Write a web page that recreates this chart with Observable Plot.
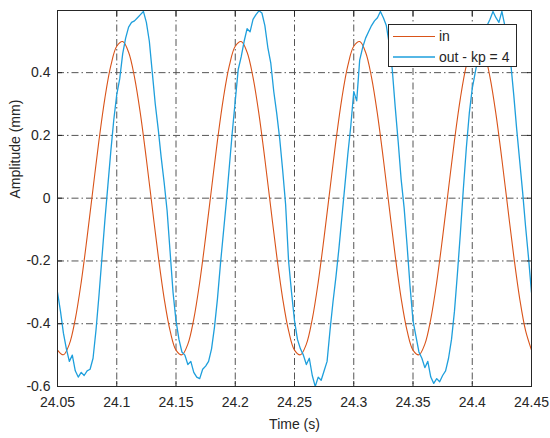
<!DOCTYPE html>
<html><head><meta charset="utf-8">
<script src="https://cdn.jsdelivr.net/npm/d3@7"></script>
<script src="https://cdn.jsdelivr.net/npm/@observablehq/plot@0.6"></script>
<style>
body{margin:0;background:#fff;}
#chart{position:relative;width:550px;height:438px;font-family:"Liberation Sans",Arial,Helvetica,sans-serif;}
#legend{position:absolute;left:388px;top:24px;width:127px;height:41px;border:1px solid #262626;background:#fff;}
</style></head><body>
<div id="chart"><div id="legend"></div></div>
<script>
// sampling of the recorded signals
const t0 = 24.05, dtIn = 0.005, dtOut = 0.0025;

// input signal (mm), every 5 ms
const inValues = [
 -0.484,-0.499,-0.465,-0.385,-0.268,-0.124,0.031,0.184,0.319,0.422,0.484,0.499,0.465,0.385,0.268,0.124,-0.031,-0.184,-0.319,-0.422,
 -0.484,-0.499,-0.465,-0.385,-0.268,-0.124,0.031,0.184,0.319,0.422,0.484,0.499,0.465,0.385,0.268,0.124,-0.031,-0.184,-0.319,-0.422,
 -0.484,-0.499,-0.465,-0.385,-0.268,-0.124,0.031,0.184,0.319,0.422,0.484,0.499,0.465,0.385,0.268,0.124,-0.031,-0.184,-0.319,-0.422,
 -0.484,-0.499,-0.465,-0.385,-0.268,-0.124,0.031,0.184,0.319,0.422,0.484,0.499,0.465,0.385,0.268,0.124,-0.031,-0.184,-0.319,-0.422,
 -0.484
];

// output signal (mm), every 2.5 ms
const outValues = [
 -0.30,-0.36,-0.43,-0.48,-0.52,-0.50,-0.55,-0.57,-0.555,-0.565,-0.55,-0.545,-0.51,-0.42,-0.31,-0.19,-0.07,0.04,0.15,0.25,
 0.33,0.38,0.46,0.51,0.545,0.56,0.565,0.575,0.585,0.595,0.56,0.50,0.40,0.30,0.22,0.13,0.05,-0.04,-0.17,-0.30,
 -0.39,-0.45,-0.49,-0.50,-0.53,-0.52,-0.555,-0.57,-0.575,-0.545,-0.535,-0.52,-0.48,-0.41,-0.32,-0.21,-0.11,-0.01,0.10,0.21,
 0.31,0.41,0.45,0.50,0.54,0.53,0.57,0.585,0.597,0.59,0.55,0.48,0.43,0.34,0.27,0.19,0.09,-0.02,-0.20,-0.30,
 -0.39,-0.45,-0.48,-0.50,-0.53,-0.51,-0.565,-0.60,-0.57,-0.58,-0.55,-0.52,-0.42,-0.33,-0.25,-0.16,-0.06,0.04,0.14,0.23,
 0.34,0.31,0.44,0.48,0.51,0.53,0.55,0.565,0.575,0.595,0.575,0.55,0.49,0.41,0.29,0.18,0.06,-0.03,-0.15,-0.28,
 -0.39,-0.44,-0.49,-0.51,-0.54,-0.52,-0.57,-0.59,-0.575,-0.585,-0.565,-0.55,-0.51,-0.45,-0.36,-0.24,-0.11,0.03,0.16,0.27,
 0.35,0.40,0.45,0.50,0.53,0.55,0.57,0.595,0.575,0.56,0.595,0.55,0.49,0.43,0.33,0.22,0.12,0.02,-0.09,-0.19,
 -0.30
];

const xTicks = [24.05,24.1,24.15,24.2,24.25,24.3,24.35,24.4,24.45];
const xTickLabels = ["24.05","24.1","24.15","24.2","24.25","24.3","24.35","24.4","24.45"];
const yTicks = [-0.6,-0.4,-0.2,0,0.2,0.4];
const yTickLabels = ["-0.6","-0.4","-0.2","0","0.2","0.4"];
const seriesNames = ["in","out - kp = 4"];
const seriesColors = ["#D95319","#1E9FDC"];
const xTitle = "Time (s)";
const yTitle = "Amplitude (mm)";
const xDomain = [24.05, 24.45];
const yDomain = [-0.6, 0.598];

const inData = inValues.map((v, i) => ({t: t0 + i * dtIn, v}));
const outData = outValues.map((v, i) => ({t: t0 + i * dtOut, v}));
const fmtX = d => xTickLabels[xTicks.findIndex(x => Math.abs(x - d) < 1e-9)];
const fmtY = d => yTickLabels[yTicks.findIndex(y => Math.abs(y - d) < 1e-9)];
const gridStyle = {stroke: "#555", strokeWidth: 1, strokeDasharray: "7,3,1.5,3"};

const plot = Plot.plot({
  width: 550, height: 438,
  marginLeft: 57, marginRight: 19, marginTop: 10, marginBottom: 52,
  style: {fontFamily: '"Liberation Sans", Arial, Helvetica, sans-serif', fontSize: "14px", color: "#262626", background: "#fff"},
  x: {domain: xDomain},
  y: {domain: yDomain},
  marks: [
    Plot.ruleX(xTicks.slice(1, -1), gridStyle),
    Plot.ruleY(yTicks.slice(1), gridStyle),
    Plot.line(inData, {x: "t", y: "v", stroke: seriesColors[0], strokeWidth: 1.1, curve: "catmull-rom", clip: true}),
    Plot.line(outData, {x: "t", y: "v", stroke: seriesColors[1], strokeWidth: 1.3, clip: true}),
    Plot.frame({stroke: "#262626", strokeWidth: 1}),
    Plot.axisX(xTicks, {anchor: "bottom", tickSize: 5, dy: -5, tickFormat: () => "", label: null, stroke: "#262626"}),
    Plot.axisX(xTicks, {anchor: "top", tickSize: 5, dy: 5, tickFormat: () => "", label: null, stroke: "#262626"}),
    Plot.axisY(yTicks, {anchor: "left", tickSize: 5, dx: 5, tickFormat: () => "", label: null, stroke: "#262626"}),
    Plot.axisY(yTicks, {anchor: "right", tickSize: 5, dx: -5, tickFormat: () => "", label: null, stroke: "#262626"}),
    Plot.axisX(xTicks, {anchor: "bottom", tickSize: 0, tickPadding: 11, tickFormat: fmtX, label: null, fontSize: 14, fill: "#262626"}),
    Plot.axisY(yTicks, {anchor: "left", tickSize: 0, tickPadding: 7, tickFormat: fmtY, label: null, fontSize: 14, fill: "#262626"}),
    Plot.text([xTitle], {frameAnchor: "bottom", dy: 42, lineAnchor: "bottom", fontSize: 14, fill: "#262626"}),
    Plot.text([yTitle], {frameAnchor: "left", dx: -38, rotate: -90, lineAnchor: "bottom", fontSize: 14, fill: "#262626"})
  ]
});
const chart = document.getElementById("chart");
chart.insertBefore(plot, chart.firstChild);

// legend
const lg = d3.select("#legend").append("svg").attr("width", 127).attr("height", 41);
seriesNames.forEach((name, i) => {
  const y = 11.5 + i * 20.5;
  lg.append("line").attr("x1", 4).attr("x2", 46).attr("y1", y).attr("y2", y)
    .attr("stroke", seriesColors[i]).attr("stroke-width", i ? 1.3 : 1.1);
  lg.append("text").attr("x", 50).attr("y", y).attr("dy", "0.35em")
    .attr("font-size", 14).attr("fill", "#262626")
    .style("font-family", '"Liberation Sans", Arial, Helvetica, sans-serif').text(name);
});
</script>
</body></html>
